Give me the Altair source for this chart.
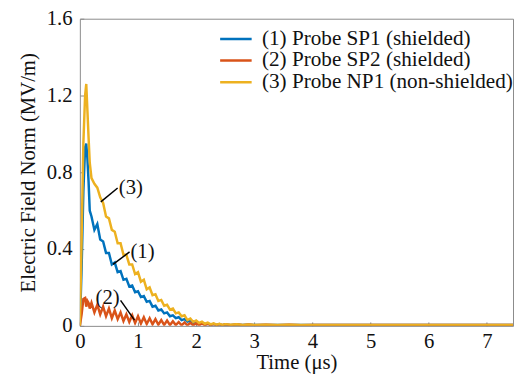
import altair as alt
import pandas as pd

time_us = [0, 0.03, 0.06, 0.09, 0.11, 0.13, 0.15, 0.17, 0.20,
           0.25, 0.30, 0.35, 0.40, 0.45, 0.50, 0.55, 0.60, 0.65, 0.70,
           0.75, 0.80, 0.85, 0.90, 0.95, 1.00, 1.05, 1.10, 1.15, 1.20,
           1.25, 1.30, 1.35, 1.40, 1.45, 1.50, 1.55, 1.60, 1.65, 1.70,
           1.75, 1.80, 1.85, 1.90, 1.95, 2.00, 2.05, 2.10, 2.15, 2.20,
           2.25, 2.30, 2.35, 2.40, 2.45, 2.50, 2.6, 2.7, 2.8, 2.9, 3.0,
           3.2, 3.4, 3.6, 3.8, 4.0, 4.5, 5.0, 5.5, 6.0, 6.5, 7.0, 7.45]

sp1 = [0, 0.30, 0.70, 0.93, 0.95, 0.87, 0.75, 0.60, 0.57,
       0.50, 0.53, 0.45, 0.44, 0.38, 0.38, 0.32, 0.33, 0.28, 0.285,
       0.24, 0.245, 0.205, 0.21, 0.175, 0.18, 0.15, 0.155, 0.125, 0.13,
       0.10, 0.105, 0.08, 0.085, 0.065, 0.07, 0.05, 0.055, 0.04, 0.045,
       0.03, 0.035, 0.022, 0.027, 0.016, 0.02, 0.011, 0.015, 0.008, 0.011,
       0.006, 0.009, 0.005, 0.008, 0.004, 0.007, 0.004, 0.006, 0.004, 0.006, 0.004,
       0.005, 0.004, 0.005, 0.004, 0.004, 0.004, 0.004, 0.004, 0.004, 0.004, 0.004, 0.004]

sp2 = [0, 0.06, 0.14, 0.145, 0.10, 0.13, 0.12, 0.09, 0.12,
       0.07, 0.11, 0.06, 0.10, 0.05, 0.09, 0.04, 0.08, 0.035, 0.07,
       0.025, 0.06, 0.02, 0.055, 0.015, 0.05, 0.012, 0.045, 0.01, 0.04,
       0.008, 0.035, 0.006, 0.03, 0.005, 0.028, 0.004, 0.024, 0.004, 0.02,
       0.003, 0.018, 0.003, 0.016, 0.003, 0.014, 0.003, 0.012, 0.003, 0.011,
       0.003, 0.010, 0.003, 0.009, 0.003, 0.008, 0.003, 0.008, 0.003, 0.007, 0.003,
       0.006, 0.003, 0.006, 0.003, 0.005, 0.004, 0.004, 0.004, 0.004, 0.004, 0.004, 0.004]

np1 = [0, 0.45, 0.95, 1.20, 1.26, 1.12, 0.98, 0.85, 0.77,
       0.74, 0.72, 0.67, 0.64, 0.57, 0.56, 0.50, 0.49, 0.43, 0.43,
       0.37, 0.37, 0.32, 0.32, 0.27, 0.28, 0.23, 0.24, 0.19, 0.20,
       0.16, 0.165, 0.13, 0.135, 0.105, 0.11, 0.085, 0.09, 0.065, 0.07,
       0.05, 0.055, 0.03, 0.038, 0.02, 0.028, 0.015, 0.022, 0.011, 0.017,
       0.008, 0.013, 0.006, 0.011, 0.005, 0.009, 0.006, 0.008, 0.005, 0.007, 0.005,
       0.006, 0.005, 0.006, 0.005, 0.005, 0.005, 0.005, 0.005, 0.005, 0.005, 0.005, 0.005]

series_names = ["(1) Probe SP1 (shielded)", "(2) Probe SP2 (shielded)",
                "(3) Probe NP1 (non-shielded)"]
series_colors = ["#0072BD", "#D95319", "#EDB120"]

x_ticks = [0, 1, 2, 3, 4, 5, 6, 7]
y_ticks = [0, 0.2, 0.4, 0.6, 0.8, 1.0, 1.2, 1.4, 1.6]

ann_labels = ["(3)", "(1)", "(2)"]
ann_text_t = [0.67, 0.87, 0.27]
ann_text_v = [0.72, 0.385, 0.145]
lead_t0 = [0.36, 0.57, 0.70]
lead_v0 = [0.646, 0.32, 0.133]
lead_t1 = [0.65, 0.855, 0.94]
lead_v1 = [0.718, 0.385, 0.03]

rows = []
for i, name in enumerate(series_names):
    vals = [sp1, sp2, np1][i]
    for t, v in zip(time_us, vals):
        rows.append({"t": t, "v": v, "series": name, "order": i})
df = pd.DataFrame(rows)

ann = pd.DataFrame({"label": ann_labels, "t": ann_text_t, "v": ann_text_v})
leads = pd.DataFrame({"t0": lead_t0, "v0": lead_v0, "t1": lead_t1, "v1": lead_v1})

FONT = "Liberation Serif"
GRAY = "#8a8a8a"
INK = "#111111"
xscale = alt.Scale(domain=[0, 7.45], nice=False, zero=False)
yscale = alt.Scale(domain=[0, 1.6], nice=False)

x_main = alt.X("t:Q", scale=xscale, title="Time (μs)",
               axis=alt.Axis(values=x_ticks, format="d", labelOverlap=False))
y_main = alt.Y("v:Q", scale=yscale, title="Electric Field Norm (MV/m)",
               axis=alt.Axis(values=y_ticks, labelOverlap=False,
                             labelExpr="datum.value == 0 ? '0' : format(datum.value, '.1f')"))

lines = alt.Chart(df).mark_line(strokeWidth=2.5, clip=True).encode(
    x=x_main,
    y=y_main,
    color=alt.Color("series:N", scale=alt.Scale(domain=series_names, range=series_colors),
                    legend=alt.Legend(title=None, orient="none", legendX=141, legendY=10,
                                      symbolType="stroke", symbolSize=1024,
                                      symbolStrokeWidth=2.5,
                                      labelFont=FONT, labelFontSize=21.5, labelColor=INK,
                                      labelLimit=0, rowPadding=0, clipHeight=21,
                                      labelOffset=9)),
    order="order:Q",
)

lead_rules = alt.Chart(leads).mark_rule(color="black", strokeWidth=1.5).encode(
    x=alt.X("t0:Q", scale=xscale), y=alt.Y("v0:Q", scale=yscale),
    x2="t1:Q", y2="v1:Q")

texts = alt.Chart(ann).mark_text(font=FONT, fontSize=21, align="left",
                                 baseline="middle", color=INK).encode(
    x=alt.X("t:Q", scale=xscale), y=alt.Y("v:Q", scale=yscale),
    text="label:N")

chart = alt.layer(lines, lead_rules, texts).properties(
    width=440, height=312, autosize="none",
    padding={"left": 73, "top": 8, "right": 1, "bottom": 46},
).configure_axis(
    grid=False, domain=False, offset=-4, tickSize=4, tickColor=GRAY,
    labelOverlap=False, labelFlush=False,
    labelFont=FONT, labelFontSize=21, labelColor=INK,
    titleFont=FONT, titleFontSize=21, titleFontWeight="normal", titleColor=INK,
).configure_axisX(
    labelFont=FONT, labelFontSize=21, labelPadding=5, titlePadding=0,
    labelOverlap=False,
).configure_axisY(
    labelFont=FONT, labelFontSize=21, labelPadding=8, titlePadding=8,
    labelOverlap=False,
).configure_legend(
    labelFont=FONT, labelFontSize=21.5, labelColor=INK, rowPadding=0, clipHeight=21,
).configure_view(stroke=GRAY, strokeWidth=1)

chart.save("out.html", embed_options={"renderer": "svg", "actions": False})
